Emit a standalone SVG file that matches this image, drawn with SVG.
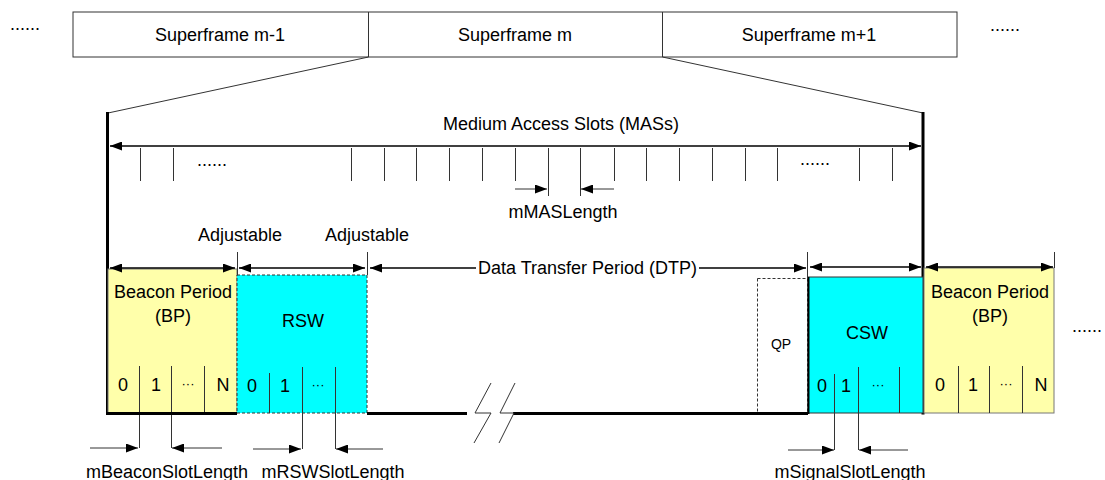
<svg xmlns="http://www.w3.org/2000/svg" width="1105" height="480" viewBox="0 0 1105 480">
<defs>
<marker id="ah" markerUnits="userSpaceOnUse" markerWidth="12" markerHeight="9" refX="12" refY="4.5" orient="auto-start-reverse" viewBox="0 0 12 9">
<path d="M0,0 L12,4.5 L0,9 z" fill="#000"/>
</marker>
<style>
text{font-family:"Liberation Sans",Arial,sans-serif;font-size:18px;fill:#000}
.c{text-anchor:middle}
.sm{font-size:13px}
.qp{font-size:14px}
.thin{stroke:#333;stroke-width:1;fill:none}
.thick{stroke:#000;stroke-width:3;fill:none}
.arr{stroke:#000;stroke-width:1.5;fill:none}
.a2{marker-start:url(#ah);marker-end:url(#ah)}
.ae{marker-end:url(#ah)}
.dash{stroke:#333;stroke-width:1;stroke-dasharray:3,2;fill:none}
.bp{fill:#FFFFAA;stroke:#777;stroke-width:1}
.cy{fill:#00FFFF}
</style>
</defs>
<rect width="1105" height="480" fill="#fff"/>

<g id="superframes">
<text x="10" y="30">......</text>
<rect x="73" y="12" width="884" height="45" class="thin" stroke="#444"/>
<line x1="368.5" y1="12" x2="368.5" y2="57" class="thin"/>
<line x1="662.5" y1="12" x2="662.5" y2="57" class="thin"/>
<text x="220" y="41" class="c">Superframe m-1</text>
<text x="515" y="41" class="c">Superframe m</text>
<text x="809" y="41" class="c">Superframe m+1</text>
<text x="990" y="31">......</text>
</g>

<g id="zoom-lines">
<line x1="368.5" y1="57" x2="108" y2="113" class="thin"/>
<line x1="662.5" y1="57" x2="923" y2="113" class="thin"/>
<line x1="107.5" y1="112" x2="107.5" y2="414.5" class="thick"/>
<line x1="923" y1="112" x2="923" y2="414.5" class="thick"/>
</g>

<g id="mas">
<text x="561" y="130" class="c">Medium Access Slots (MASs)</text>
<line x1="110" y1="146" x2="921" y2="146" class="arr a2" stroke-width="2"/>
<g class="thin">
<line x1="140.5" y1="148" x2="140.5" y2="181"/>
<line x1="173.5" y1="148" x2="173.5" y2="181"/>
<line x1="351.5" y1="148" x2="351.5" y2="181"/>
<line x1="384.5" y1="148" x2="384.5" y2="181"/>
<line x1="416.5" y1="148" x2="416.5" y2="181"/>
<line x1="449.5" y1="148" x2="449.5" y2="181"/>
<line x1="482.5" y1="148" x2="482.5" y2="181"/>
<line x1="515.5" y1="148" x2="515.5" y2="181"/>
<line x1="548.5" y1="148" x2="548.5" y2="196"/>
<line x1="580.5" y1="148" x2="580.5" y2="196"/>
<line x1="614.5" y1="148" x2="614.5" y2="181"/>
<line x1="646.5" y1="148" x2="646.5" y2="181"/>
<line x1="679.5" y1="148" x2="679.5" y2="181"/>
<line x1="712.5" y1="148" x2="712.5" y2="181"/>
<line x1="745.5" y1="148" x2="745.5" y2="181"/>
<line x1="777.5" y1="148" x2="777.5" y2="181"/>
<line x1="859.5" y1="148" x2="859.5" y2="181"/>
<line x1="892.5" y1="148" x2="892.5" y2="181"/>
</g>
<text x="197" y="166">......</text>
<text x="800" y="165">......</text>
</g>

<g id="mmaslength">
<line x1="515" y1="189" x2="547" y2="189" class="thin ae" stroke="#000"/>
<line x1="614" y1="189" x2="581" y2="189" class="thin ae" stroke="#000"/>
<text x="563" y="218" class="c">mMASLength</text>
</g>

<g id="labels-adjustable">
<text x="240" y="241" class="c">Adjustable</text>
<text x="367" y="241" class="c">Adjustable</text>
</g>

<g id="bp-left">
<rect x="108" y="269" width="129" height="144" class="bp"/>
<text x="173" y="298" class="c">Beacon Period</text>
<text x="173" y="322" class="c">(BP)</text>
<g class="thin" stroke="#444">
<line x1="139.5" y1="366" x2="139.5" y2="448"/>
<line x1="171.5" y1="366" x2="171.5" y2="448"/>
<line x1="204.5" y1="366" x2="204.5" y2="413"/>
</g>
<text x="123" y="391" class="c">0</text>
<text x="156" y="391" class="c">1</text>
<text x="188" y="388" class="c sm">···</text>
<text x="223" y="391" class="c">N</text>
</g>

<g id="rsw">
<rect x="237" y="275" width="130" height="138" class="cy"/>
<rect x="237" y="275" width="130" height="138" class="dash"/>
<text x="303" y="327" class="c">RSW</text>
<g class="thin" stroke="#444">
<line x1="269.5" y1="373" x2="269.5" y2="413"/>
<line x1="302.5" y1="367" x2="302.5" y2="449"/>
<line x1="335.5" y1="367" x2="335.5" y2="449"/>
</g>
<text x="252" y="392" class="c">0</text>
<text x="285" y="392" class="c">1</text>
<text x="318" y="389" class="c sm">···</text>
</g>

<g id="qp">
<rect x="757.5" y="278.5" width="50" height="134" class="dash"/>
<text x="781" y="349" class="c qp">QP</text>
</g>

<g id="csw">
<rect x="808" y="277" width="115" height="136" class="cy" stroke="#333" stroke-width="1"/>
<line x1="808.5" y1="277" x2="808.5" y2="414" stroke="#000" stroke-width="2"/>
<text x="867" y="339" class="c">CSW</text>
<g class="thin" stroke="#444">
<line x1="834.5" y1="374" x2="834.5" y2="450"/>
<line x1="858.5" y1="367" x2="858.5" y2="450"/>
<line x1="899.5" y1="367" x2="899.5" y2="413"/>
</g>
<text x="822" y="392" class="c">0</text>
<text x="846" y="392" class="c">1</text>
<text x="878" y="389" class="c sm">···</text>
</g>

<g id="bp-right">
<rect x="924" y="268" width="130" height="145" class="bp"/>
<text x="990" y="298" class="c">Beacon Period</text>
<text x="990" y="322" class="c">(BP)</text>
<g class="thin" stroke="#444">
<line x1="958.5" y1="366" x2="958.5" y2="413"/>
<line x1="989.5" y1="366" x2="989.5" y2="413"/>
<line x1="1022.5" y1="366" x2="1022.5" y2="413"/>
</g>
<text x="940" y="391" class="c">0</text>
<text x="973" y="391" class="c">1</text>
<text x="1006" y="388" class="c sm">···</text>
<text x="1041" y="391" class="c">N</text>
<text x="1072" y="332">......</text>
</g>

<g id="connectors">
<line x1="237.5" y1="252" x2="237.5" y2="275" class="thin"/>
<line x1="367.5" y1="252" x2="367.5" y2="275" class="thin"/>
<line x1="807.5" y1="252" x2="807.5" y2="278" class="thin"/>
<line x1="1054.5" y1="252" x2="1054.5" y2="268" class="thin"/>
<line x1="110" y1="268" x2="235" y2="268" class="arr a2"/>
<line x1="239" y1="268" x2="365" y2="268" class="arr a2"/>
<line x1="476" y1="268" x2="370" y2="268" class="arr ae" stroke-width="2"/>
<line x1="699" y1="268" x2="806" y2="268" class="arr ae" stroke-width="2"/>
<text x="587.5" y="274" class="c">Data Transfer Period (DTP)</text>
<line x1="810" y1="267" x2="921" y2="267" class="arr a2"/>
<line x1="926" y1="267" x2="1053" y2="267" class="arr a2"/>
<line x1="106" y1="413.5" x2="237" y2="413.5" class="thick"/>
<line x1="367" y1="413.5" x2="467" y2="413.5" class="thick"/>
<line x1="513" y1="413.5" x2="808" y2="413.5" class="thick"/>
<polyline points="491,383 475,413 491,413 474,443" class="thin" stroke="#000"/>
<polyline points="515,383 500,413 514,413 499,443" class="thin" stroke="#000"/>
<line x1="90" y1="448" x2="138" y2="448" class="thin ae" stroke="#000"/>
<line x1="222" y1="448" x2="172" y2="448" class="thin ae" stroke="#000"/>
<line x1="253" y1="449" x2="301" y2="449" class="thin ae" stroke="#000"/>
<line x1="383" y1="449" x2="336" y2="449" class="thin ae" stroke="#000"/>
<line x1="788" y1="450" x2="834" y2="450" class="thin ae" stroke="#000"/>
<line x1="908" y1="450" x2="859" y2="450" class="thin ae" stroke="#000"/>
</g>

<g id="bottom-labels">
<text x="167" y="478" class="c">mBeaconSlotLength</text>
<text x="333" y="478" class="c">mRSWSlotLength</text>
<text x="850" y="478" class="c">mSignalSlotLength</text>
</g>
</svg>
